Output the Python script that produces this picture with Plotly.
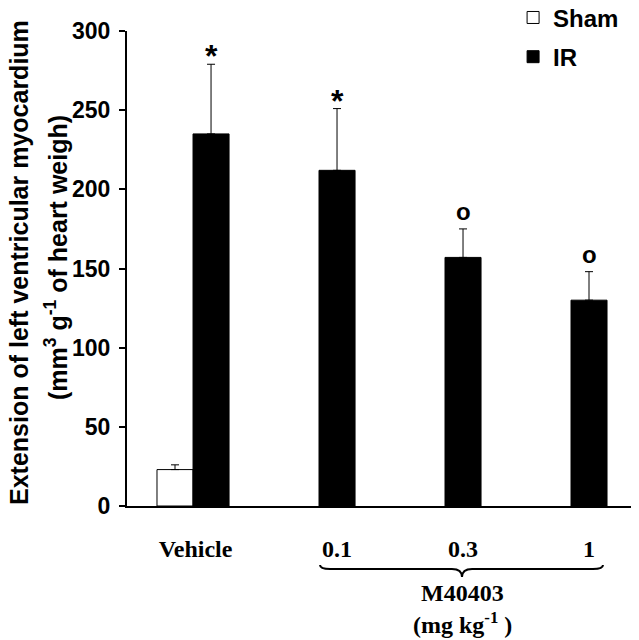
import plotly.graph_objects as go

categories = ["Vehicle", "0.1", "0.3", "1"]
sham_values = [23, None, None, None]
sham_errors = [3, 0, 0, 0]
ir_values = [235, 212, 157, 130]
ir_errors = [44, 39, 18, 18]
marks = ["*", "*", "o", "o"]
y_ticks = [0, 50, 100, 150, 200, 250, 300]

ir_pos = [1, 2, 3, 4]
bw = 0.286
sham_pos = [p - bw for p in ir_pos]

SANS = "Liberation Sans, Arial, sans-serif"
SERIF = "Liberation Serif, Times New Roman, serif"

fig = go.Figure()
fig.add_trace(go.Bar(
    x=sham_pos, y=sham_values, width=bw, name="Sham",
    marker=dict(color="white", line=dict(color="black", width=1)),
    error_y=dict(type="data", array=sham_errors, arrayminus=[0]*4, symmetric=False,
                 color="black", thickness=1, width=4),
    legendgroup="a",
))
fig.add_trace(go.Bar(
    x=ir_pos, y=ir_values, width=bw, name="IR",
    marker=dict(color="black", line=dict(color="black", width=1)),
    error_y=dict(type="data", array=ir_errors, arrayminus=[0]*4, symmetric=False,
                 color="black", thickness=1, width=4),
    legendgroup="b",
))

# significance marks
for p, v, e, m in zip(ir_pos, ir_values, ir_errors, marks):
    if m == "*":
        fig.add_annotation(x=p, y=v + e, xref="x", yref="y", text="*", showarrow=False,
                           font=dict(family=SANS, size=32, color="black", weight="bold"),
                           yanchor="middle", yshift=8)
    else:
        fig.add_annotation(x=p, y=v + e, xref="x", yref="y", text="o", showarrow=False,
                           font=dict(family=SANS, size=24, color="black", weight="bold"),
                           yanchor="middle", yshift=17)

# tick positions: vehicle centered in its group, doses under IR bars
tick_pos = [(sham_pos[0] + ir_pos[0]) / 2 + 0.02] + ir_pos[1:]

# page has an 8px body margin, compensated in the figure margins
fig.update_layout(
    width=639, height=640,
    margin=dict(l=119, r=12, t=23, b=142, autoexpand=False),
    plot_bgcolor="white", paper_bgcolor="white",
    barmode="overlay",
    showlegend=True,
    legend=dict(x=0.760, y=1.075, xanchor="left", yanchor="top",
                font=dict(family=SANS, size=24, color="black", weight="bold"),
                bgcolor="rgba(0,0,0,0)", traceorder="grouped", tracegroupgap=5),
    xaxis=dict(range=[0.333, 4.365], showgrid=False, zeroline=False,
               showline=True, linecolor="black", linewidth=2,
               tickvals=tick_pos, ticktext=categories,
               ticks="outside", ticklen=20, tickcolor="rgba(0,0,0,0)",
               tickfont=dict(family=SERIF, size=24, color="black", weight="bold")),
    yaxis=dict(range=[0, 300], tickvals=y_ticks, showgrid=False, zeroline=False,
               showline=True, linecolor="black", linewidth=2,
               ticks="outside", ticklen=6, tickwidth=2, tickcolor="black",
               ticklabelstandoff=4,
               tickfont=dict(family=SANS, size=23, color="black", weight="bold")),
)

# y-axis title (two lines)
fig.add_annotation(x=(19 - 127) / 508, y=(506 - 263) / 475, xref="paper", yref="paper",
                   showarrow=False,
                   text="Extension of left ventricular myocardium", textangle=-90,
                   xanchor="center", yanchor="middle",
                   font=dict(family=SANS, size=25, color="black", weight="bold"))
fig.add_annotation(x=(56 - 127) / 508, y=(506 - 258) / 475, xref="paper", yref="paper",
                   showarrow=False,
                   text="(mm<sup>3</sup> g<sup>-1</sup> of heart weigh)", textangle=-90,
                   xanchor="center", yanchor="middle",
                   font=dict(family=SANS, size=25, color="black", weight="bold"))

# brace under dose groups
x0, x1, xc = 1.865, 4.111, 2.992
yt, yl, ytip = -0.1242, -0.1326, -0.1495
d = 0.08
path = (f"M {x0},{yt} Q {x0},{yl} {x0+d},{yl} L {xc-d},{yl} Q {xc},{yl} {xc},{ytip} "
        f"Q {xc},{yl} {xc+d},{yl} L {x1-d},{yl} Q {x1},{yl} {x1},{yt}")
fig.add_shape(type="path", path=path, xref="x", yref="paper",
              line=dict(color="black", width=2))

fig.add_annotation(x=xc, y=(506 - 593) / 475, xref="x", yref="paper", showarrow=False,
                   text="M40403", yanchor="middle",
                   font=dict(family=SERIF, size=24, color="black", weight="bold"))
fig.add_annotation(x=xc, y=(506 - 623) / 475, xref="x", yref="paper", showarrow=False,
                   text="(mg kg<sup>-1</sup> )", yanchor="middle",
                   font=dict(family=SERIF, size=24, color="black", weight="bold"))

fig.write_html("out.html")
